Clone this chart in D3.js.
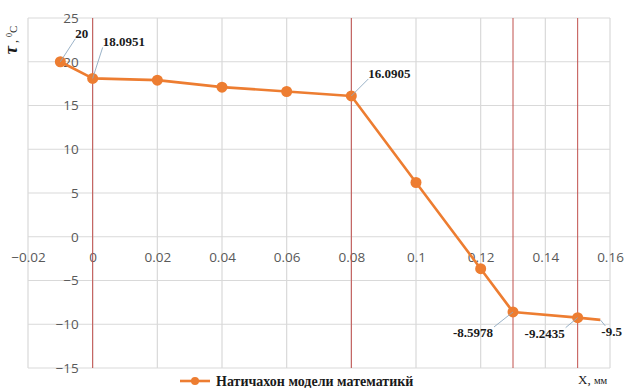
<!DOCTYPE html>
<html>
<head>
<meta charset="utf-8">
<script src="https://cdn.jsdelivr.net/npm/d3@7"></script>
<style>
  html, body { margin: 0; padding: 0; background: #fff; }
  svg { display: block; }
</style>
</head>
<body>
<svg id="chart" width="627" height="388"></svg>
<script>
// Temperature profile across the layers
const xValues = [-0.01, 0, 0.02, 0.04, 0.06, 0.08, 0.1, 0.12, 0.13, 0.15, 0.157];
const tValues = [20, 18.0951, 17.9, 17.1, 16.6, 16.0905, 6.2, -3.65, -8.5978, -9.2435, -9.5];
const showMarker = [true, true, true, true, true, true, true, true, true, true, false];
const xTicks = [-0.02, 0, 0.02, 0.04, 0.06, 0.08, 0.1, 0.12, 0.14, 0.16];
const yTicks = [-15, -10, -5, 0, 5, 10, 15, 20, 25];
const boundaries = [0, 0.08, 0.13, 0.15];
// labelled points: index into data, label offset (dx, dy) of the text anchor
const labelIdx = [0, 1, 5, 8, 9, 10];
const labelText = ["20", "18.0951", "16.0905", "-8.5978", "-9.2435", "-9.5"];
const labelOff = [[15, -24], [10, -32], [17, -18], [-20, 25], [-13, 20], [1, 16]];
const seriesName = "Натичахон модели математикй";

const svg = d3.select("#chart");
const x = d3.scaleLinear().domain([-0.02, 0.16]).range([28, 610]);
const y = d3.scaleLinear().domain([-15, 25]).range([368, 18]);

const gridColor = "#d9d9d9";
const tickFont = "'Open Sans', 'Noto Sans', sans-serif";

// grid
svg.append("g").selectAll("line").data(xTicks).join("line")
  .attr("x1", d => x(d)).attr("x2", d => x(d))
  .attr("y1", y(25)).attr("y2", y(-15))
  .attr("stroke", gridColor).attr("stroke-width", 1.2);
svg.append("g").selectAll("line").data(yTicks).join("line")
  .attr("x1", x(-0.02)).attr("x2", x(0.16))
  .attr("y1", d => y(d)).attr("y2", d => y(d))
  .attr("stroke", gridColor).attr("stroke-width", 1.2);

// x tick labels (axis crosses at y = 0)
const xAxis = svg.append("g")
  .attr("transform", `translate(0,${y(0)})`)
  .call(d3.axisBottom(x).tickValues(xTicks).tickSize(0).tickPadding(16)
    .tickFormat(d => d3.format("~g")(+d.toFixed(2))));
xAxis.select(".domain").remove();
xAxis.selectAll("text").attr("font-family", tickFont).attr("font-size", 13.5).attr("fill", "#595959");

// y tick labels (axis crosses at x = 0)
const yAxis = svg.append("g")
  .attr("transform", `translate(${x(0)},0)`)
  .call(d3.axisLeft(y).tickValues(yTicks).tickSize(0).tickPadding(14));
yAxis.select(".domain").remove();
yAxis.selectAll("text").attr("font-family", tickFont).attr("font-size", 13.5).attr("fill", "#595959");

// layer boundaries
svg.append("g").selectAll("line").data(boundaries).join("line")
  .attr("x1", d => x(d)).attr("x2", d => x(d))
  .attr("y1", y(25)).attr("y2", y(-15))
  .attr("stroke", "#c0504d").attr("stroke-width", 1);

const data = xValues.map((v, i) => ({ x: v, t: tValues[i], m: showMarker[i] }));
const orange = "#ed7d31";

svg.append("path").datum(data)
  .attr("fill", "none").attr("stroke", orange).attr("stroke-width", 2.6)
  .attr("stroke-linejoin", "round")
  .attr("d", d3.line().x(d => x(d.x)).y(d => y(d.t)));

svg.append("g").selectAll("circle").data(data.filter(d => d.m)).join("circle")
  .attr("cx", d => x(d.x)).attr("cy", d => y(d.t)).attr("r", 5.5)
  .attr("fill", orange);

// data labels with leader lines
const serif = "'Liberation Serif', 'DejaVu Serif', serif";
labelIdx.forEach((idx, k) => {
  const d = data[idx];
  const px = x(d.x), py = y(d.t);
  const [dx, dy] = labelOff[k];
  const lx = px + dx, ly = py + dy;
  const below = dy > 0;
  const anchor = dx < 0 ? "end" : "start";
  // leader end sits at the label corner nearest the point
  const ex = dx < 0 ? lx + 1 : lx + (below ? 4 : 0);
  const ey = below ? ly - 10 : ly + 1;
  svg.append("line")
    .attr("x1", px).attr("y1", py)
    .attr("x2", ex).attr("y2", ey)
    .attr("stroke", "#8ea9c1").attr("stroke-width", 0.9);
  svg.append("text")
    .attr("x", lx).attr("y", ly)
    .attr("text-anchor", anchor)
    .attr("font-family", serif).attr("font-weight", "bold").attr("font-size", 13)
    .attr("fill", "#1a1a1a")
    .text(labelText[k]);
});

// axis titles
svg.append("text")
  .attr("transform", `translate(17,40) rotate(-90)`)
  .attr("text-anchor", "middle")
  .attr("font-family", serif).attr("fill", "#1a1a1a")
  .call(t => {
    t.append("tspan").attr("font-size", 19).attr("font-style", "italic").attr("font-weight", "bold").text("τ");
    t.append("tspan").attr("font-size", 12).text(" , ");
    t.append("tspan").attr("font-size", 8).attr("dy", -5).text("0");
    t.append("tspan").attr("font-size", 11).attr("dy", 5).text("C");
  });

svg.append("text")
  .attr("x", 578).attr("y", 384)
  .attr("font-family", serif).attr("font-size", 13).attr("fill", "#1a1a1a")
  .call(t => {
    t.append("tspan").text("X, ");
    t.append("tspan").attr("font-size", 10.5).text("мм");
  });

// legend
const lg = svg.append("g").attr("transform", "translate(180,381)");
lg.append("line").attr("x1", 0).attr("x2", 30).attr("y1", 0).attr("y2", 0)
  .attr("stroke", orange).attr("stroke-width", 2.6);
lg.append("circle").attr("cx", 15).attr("cy", 0).attr("r", 4).attr("fill", orange);
lg.append("text").attr("x", 36).attr("y", 5)
  .attr("font-family", serif).attr("font-weight", "bold").attr("font-size", 14)
  .attr("fill", "#1a1a1a").text(seriesName);
</script>
</body>
</html>
